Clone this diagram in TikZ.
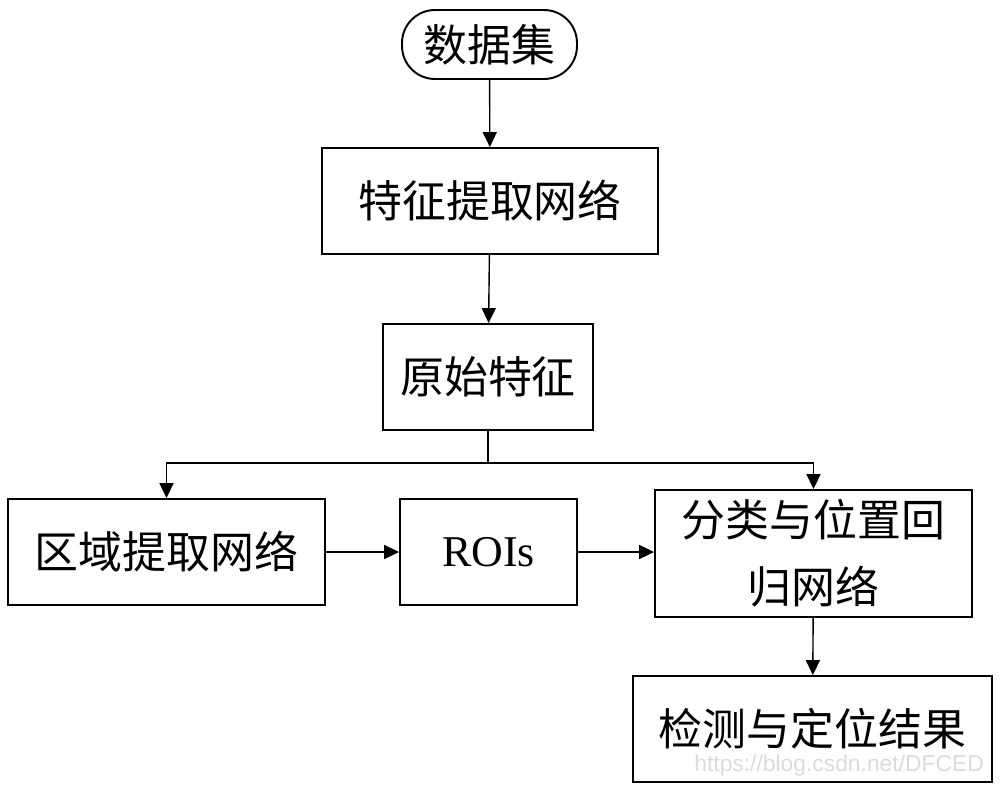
\documentclass[tikz,border=0pt]{standalone}
\usepackage{fontspec}
\setmainfont{Liberation Serif}
\newfontfamily\zh{Noto Sans CJK SC}
\newfontfamily\wm{Liberation Sans}
\usetikzlibrary{arrows.meta}

\begin{document}
\begin{tikzpicture}[x=0.02cm,y=-0.02cm,
		box/.style={draw,line width=1.1pt,inner sep=0pt,align=center,font=\zh\fontsize{25}{38}\selectfont},
		flow/.style={-{Triangle[length=8.5pt,width=8pt]},line width=0.8pt}]
	\useasboundingbox (0,0) rectangle (1000,788);
	
	\node[box,rounded corners=0.66cm,minimum width=3.5cm,minimum height=1.38cm] (data) at (489.5,44.5) {数据集};
	\node[box,minimum width=6.72cm,minimum height=2.12cm] (feat) at (490,201) {特征提取网络};
	\node[box,minimum width=4.2cm,minimum height=2.12cm] (raw) at (488,377) {原始特征};
	
	\node[box,minimum width=6.34cm,minimum height=2.12cm] (rpn) at (166.5,552) {区域提取网络};
	\node[box,minimum width=3.54cm,minimum height=2.12cm,font=\fontsize{25}{30}\selectfont] (rois) at (488.5,552) {ROIs};
	\node[box,minimum width=6.34cm,minimum height=2.54cm] (cls) at (813.5,553.5) {分类与位置回\\归网络};
	\node[box,minimum width=7.18cm,minimum height=2.12cm] (det) at (812.5,729) {检测与定位结果};
	
	\coordinate (split) at (488,463);
	\draw[flow] (data) -- (feat);
	\draw[flow] (feat) -- (raw);
	\draw[line width=0.8pt] (raw) -- (split);
	\draw[flow] (split) -| (rpn);
	\draw[flow] (split) -| (cls);
	\draw[flow] (rpn) -- (rois);
	\draw[flow] (rois) -- (cls.west |- rois);
	\draw[flow] (cls) -- (det);
	
	\node[text=black!14,font=\wm\fontsize{13}{15}\selectfont,anchor=east] (mark) at (990,766) {https://blog.csdn.net/DFCED};
\end{tikzpicture}
\end{document}
